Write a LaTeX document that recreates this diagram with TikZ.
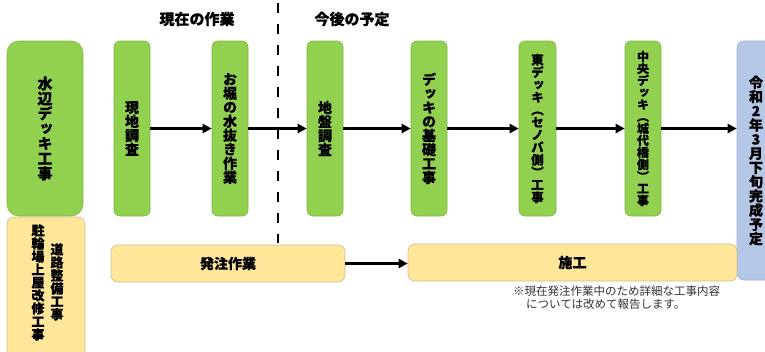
\documentclass[tikz,border=0pt]{standalone}
\usepackage{fontspec}
\setmainfont{Noto Sans CJK JP}[BoldFeatures={FakeBold=0.5}]
\newfontfamily\vjp{Noto Sans CJK JP}[RawFeature=+vert, BoldFeatures={FakeBold=0.5}]
\usetikzlibrary{arrows.meta}
\definecolor{gfill}{HTML}{92D050}
\definecolor{gline}{HTML}{7DB640}
\definecolor{yfill}{HTML}{FFE699}
\definecolor{yline}{HTML}{CDBE8C}
\definecolor{bfill}{HTML}{B4C7E7}
\definecolor{bline}{HTML}{9DB1D6}
\definecolor{notec}{HTML}{333333}
\begin{document}
\begin{tikzpicture}[x=1pt,y=-1pt,
  gbox/.style={draw=gline, line width=0.6pt, fill=gfill, rounded corners=6pt, minimum width=36pt, minimum height=175pt, inner sep=0pt, align=center, font=\vjp\bfseries\fontsize{14}{14}\selectfont},
  ybox/.style={draw=yline, line width=0.6pt, fill=yfill, rounded corners=7pt, minimum height=37pt, inner sep=0pt, font=\bfseries\fontsize{14}{14}\selectfont},
  vtxt/.style={inner sep=0pt, align=center, anchor=north, font=\vjp\bfseries\fontsize{13}{13}\selectfont},
  head/.style={inner sep=0pt, font=\bfseries\fontsize{15}{15}\selectfont},
  arr/.style={line width=2.5pt, -{Triangle[length=9pt,width=9pt]}},
  divider/.style={line width=2.2pt, dash pattern=on 10pt off 11pt}
]
\useasboundingbox (0,0) rectangle (765,351);
\fill[white] (0,0) rectangle (765,351);

\node[head] (h1) at (197,19) {現在の作業};
\node[head] (h2) at (352,19) {今後の予定};

\coordinate (dtop) at (278,3);
\coordinate (dbot) at (278,243);
\draw[divider] (dtop) -- (dbot);

\node[gbox, minimum width=76pt, rounded corners=12pt, font=\vjp\bfseries\fontsize{15}{15}\selectfont] (mizube) at (45,128.5) {水\\辺\\デ\\ッ\\キ\\工\\事};
\node[gbox] (genchi) at (132,128.5) {現\\地\\調\\査};
\node[gbox] (ohori) at (230,128.5) {お\\堀\\の\\水\\抜\\き\\作\\業};
\node[gbox] (jiban) at (325,128.5) {地\\盤\\調\\査};
\node[gbox] (kiso) at (429,128.5) {デ\\ッ\\キ\\の\\基\\礎\\工\\事};
\node[gbox, minimum width=37pt, font=\vjp\bfseries\fontsize{12.5}{12.5}\selectfont] (higashi) at (537.5,128.5) {東\\デ\\ッ\\キ\\（\\セ\\ノ\\バ\\側\\）\\工\\事};
\node[gbox, font=\vjp\bfseries\fontsize{12}{12}\selectfont] (chuo) at (643,128.5) {中\\央\\デ\\ッ\\キ\\（\\城\\代\\橋\\側\\）\\工\\事};
\node[draw=bline, line width=0.6pt, fill=bfill, rounded corners=7pt, minimum width=38pt, minimum height=239pt, inner sep=0pt, align=center, font=\vjp\bfseries\fontsize{14}{14.2}\selectfont] (kansei) at (756,160.5) {令\\和\\2\\年\\3\\月\\下\\旬\\完\\成\\予\\定};

\node[ybox, minimum width=78pt, minimum height=143pt] (churin) at (46,288.5) {};
\node[vtxt] (churintxt) at (38,224) {駐\\輪\\場\\上\\屋\\改\\修\\工\\事};
\node[vtxt] (dorotxt) at (57,243) {道\\路\\整\\備\\工\\事};

\node[ybox, minimum width=234pt] (hatchu) at (228,263.5) {発注作業};
\node[ybox, minimum width=329pt] (seko) at (572.5,262.5) {施工};

\node[inner sep=0pt, anchor=north west, align=left, text=notec, font=\fontsize{11.5}{12.5}\selectfont] (note) at (513,286) {※現在発注作業中のため詳細な工事内容\\\hspace*{13pt}については改めて報告します。};

\draw[arr] (genchi) -- (ohori);
\draw[arr] (ohori) -- (jiban);
\draw[arr] (jiban) -- (kiso);
\draw[arr] (kiso) -- (higashi);
\draw[arr] (higashi) -- (chuo);
\draw[arr] (chuo.east) -- (chuo.east -| kansei.west);
\draw[arr] (hatchu.east) -- (hatchu.east -| seko.west);
\end{tikzpicture}
\end{document}
